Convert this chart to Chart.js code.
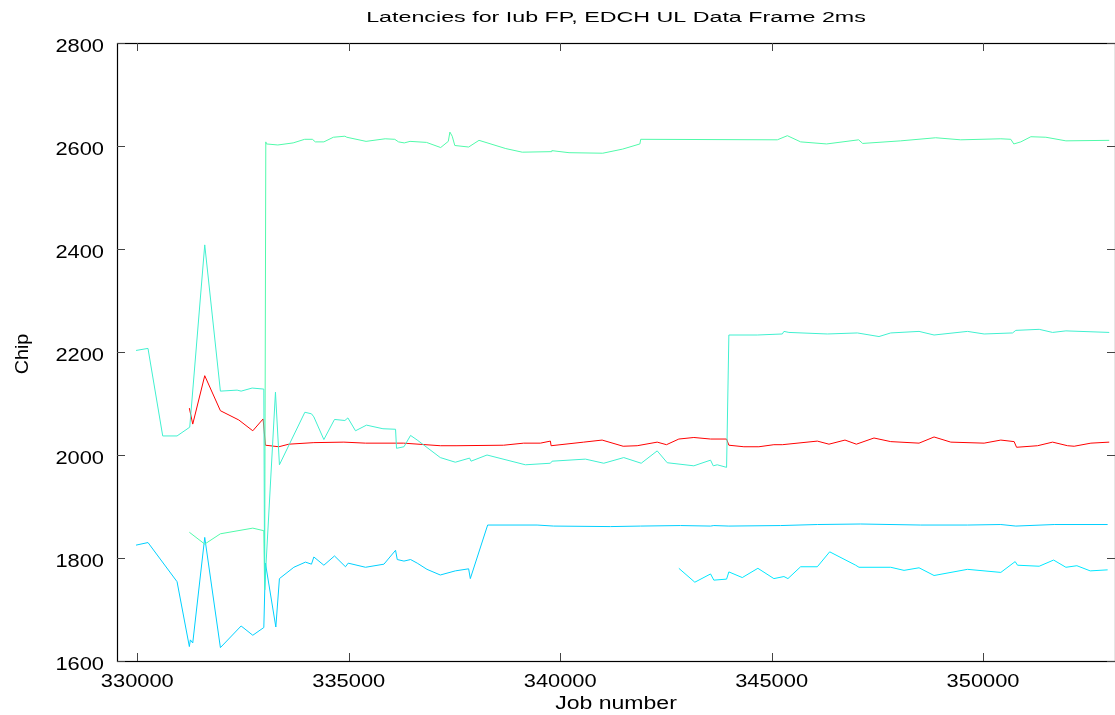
<!DOCTYPE html>
<html>
<head>
<meta charset="utf-8">
<title>Latencies for Iub FP, EDCH UL Data Frame 2ms</title>
<script src="https://cdn.jsdelivr.net/npm/chart.js@4.4.1/dist/chart.umd.min.js"></script>
<style>
    html, body { margin: 0; padding: 0; background: #fff; }
    #chart { display: block; }
</style>
</head>
<body>
<canvas id="chart" width="1115" height="715"></canvas>
<script>
const chartTitle = 'Latencies for Iub FP, EDCH UL Data Frame 2ms';
const xTitle = 'Job number';
const yTitle = 'Chip';

const xTicks = [330000, 335000, 340000, 345000, 350000];
const yTicks = [1600, 1800, 2000, 2200, 2400, 2600, 2800];

// green series: low until 333000 then jumps to ~2610
const greenJobs = [331231, 331595, 331965, 332731, 332992, 333011, 333039, 333053, 333323, 333685,
    333958, 334140, 334211, 334412, 334637, 334909, 334954, 335409, 335861, 336088,
    336178, 336313, 336450, 336838, 337174, 337354, 337392, 337447, 337508, 337835,
    338081, 338713, 339103, 339783, 339802, 340209, 341007, 341478, 341885, 341904,
    345135, 345372, 345686, 346301, 347058, 347153, 348052, 348880, 349472, 350420,
    350656, 350727, 350893, 351130, 351485, 351959, 352984];
const greenChip = [1850, 1827, 1847, 1858, 1853, 1738, 2608, 2604, 2602, 2606,
    2613, 2613, 2608, 2608, 2617, 2619, 2617, 2609, 2614, 2613,
    2608, 2606, 2609, 2607, 2597, 2609, 2627, 2619, 2601, 2598,
    2611, 2595, 2588, 2589, 2591, 2587, 2586, 2594, 2604, 2613,
    2612, 2620, 2608, 2604, 2612, 2605, 2610, 2616, 2612, 2614,
    2613, 2604, 2608, 2618, 2617, 2610, 2611];

// turquoise series: ~2000 band, jumps to ~2235 at 344000
const turqJobs = [329970, 330253, 330601, 330940, 331240, 331595, 331965, 332360, 332455, 332715,
    332992, 333011, 333267, 333361, 333962, 334119, 334175, 334412, 334663, 334909,
    334980, 335160, 335420, 335809, 336107, 336130, 336306, 336462, 336620, 337165,
    337520, 337858, 337892, 338270, 339177, 339769, 339809, 340597, 341030, 341504,
    341916, 342294, 342531, 343161, 343556, 343620, 343714, 343935, 343989, 344661,
    345253, 345291, 345409, 346318, 347028, 347539, 347816, 348486, 348841, 349632,
    350025, 350697, 350775, 351327, 351644, 351959, 352984];
const turqChip = [2203, 2207, 2037, 2037, 2054, 2408, 2124, 2126, 2124, 2130,
    2128, 1738, 2122, 1981, 2083, 2080, 2074, 2030, 2069, 2067,
    2072, 2047, 2058, 2051, 2050, 2013, 2016, 2038, 2029, 1995,
    1986, 1994, 1988, 2000, 1981, 1984, 1988, 1992, 1984, 1995,
    1984, 2008, 1985, 1979, 1990, 1979, 1981, 1976, 2233, 2233,
    2235, 2240, 2238, 2235, 2237, 2230, 2237, 2240, 2233, 2240,
    2235, 2237, 2242, 2244, 2238, 2241, 2238];

// sky blue series: low values, settles at ~1865 from 338300
const blueJobs = [329970, 330253, 330940, 331231, 331255, 331311, 331595, 331965, 332455, 332731,
    332992, 333030, 333276, 333361, 333702, 333977, 334119, 334175, 334412, 334663,
    334923, 334987, 335397, 335832, 336107, 336147, 336306, 336462, 336620, 336850,
    337165, 337520, 337835, 337875, 338285, 339454, 339847, 341189, 341899, 342846,
    343556, 343634, 343989, 345213, 346081, 347106, 348526, 349632, 350420, 350775,
    351682, 352946];
const blueChip = [1825, 1830, 1754, 1628, 1641, 1635, 1840, 1626, 1668, 1650,
    1665, 1790, 1666, 1760, 1782, 1792, 1788, 1802, 1786, 1804,
    1783, 1790, 1782, 1788, 1815, 1797, 1794, 1797, 1790, 1778,
    1767, 1775, 1779, 1760, 1864, 1864, 1862, 1861, 1862, 1863,
    1862, 1863, 1862, 1863, 1865, 1866, 1864, 1864, 1865, 1862,
    1865, 1865];

// second sky blue series starting at 342800
const cyanJobs = [342806, 343184, 343556, 343634, 343935, 343989, 344306, 344675, 345054, 345291,
    345386, 345686, 346081, 346373, 346988, 347066, 347816, 348131, 348486, 348841,
    349632, 350420, 350759, 350815, 351327, 351668, 351959, 352219, 352534, 352946];
const cyanChip = [1780, 1753, 1769, 1757, 1759, 1773, 1762, 1780, 1760, 1764,
    1760, 1783, 1783, 1812, 1786, 1782, 1782, 1776, 1781, 1766,
    1778, 1772, 1793, 1786, 1784, 1796, 1782, 1785, 1775, 1777];

// red series
const redJobs = [331231, 331311, 331595, 331965, 332400, 332731, 332975, 333030, 333347, 333584,
    334175, 334885, 335397, 336296, 337165, 337560, 338663, 339137, 339532, 339769,
    339785, 340557, 340992, 341489, 341821, 342294, 342514, 342806, 343161, 343556,
    343935, 343989, 344344, 344699, 345054, 345253, 346081, 346356, 346735, 347004,
    347421, 347816, 348486, 348841, 349237, 350025, 350420, 350735, 350792, 351289,
    351644, 351999, 352155, 352550, 352984];
const redChip = [2091, 2060, 2154, 2086, 2068, 2047, 2070, 2019, 2016, 2021,
    2024, 2025, 2023, 2023, 2018, 2018, 2019, 2023, 2023, 2027,
    2018, 2025, 2029, 2017, 2018, 2025, 2020, 2031, 2034, 2031,
    2031, 2019, 2016, 2016, 2020, 2020, 2027, 2021, 2029, 2021,
    2033, 2026, 2023, 2035, 2025, 2023, 2029, 2026, 2015, 2018,
    2025, 2018, 2017, 2023, 2025];

function toPoints(xs, ys) {
    return xs.map((x, i) => ({ x: x, y: ys[i] }));
}

function makeSeries(label, xs, ys, color) {
    return {
        label: label,
        data: toPoints(xs, ys),
        borderColor: color,
        backgroundColor: color,
        borderWidth: 1,
        pointRadius: 0,
        showLine: true,
        tension: 0
    };
}

const FONT = '"Liberation Sans", Arial, Helvetica, sans-serif';

// draw text stretched horizontally (the reference font is wider than Arial)
function drawText(ctx, text, x, y, size, stretch, align, angle) {
    ctx.save();
    ctx.font = size + 'px ' + FONT;
    ctx.textBaseline = 'middle';
    ctx.textAlign = 'left';
    const w = ctx.measureText(text).width * stretch;
    ctx.translate(x, y);
    if (angle) ctx.rotate(angle);
    let start = -w / 2;
    if (align === 'right') start = -w;
    if (align === 'left') start = 0;
    ctx.translate(start, 0);
    ctx.scale(stretch, 1);
    ctx.fillText(text, 0, 0);
    ctx.restore();
}

// frame, inward tick marks, tick labels and titles, gnuplot style
const framePlugin = {
    id: 'frame',
    afterDraw: function (chart) {
        const ctx = chart.ctx;
        const area = chart.chartArea;
        const xs = chart.scales.x;
        const ys = chart.scales.y;
        ctx.save();

        ctx.strokeStyle = '#000';
        ctx.lineWidth = 1.2;
        ctx.strokeRect(area.left + 0.5, area.top + 0.5, area.right - area.left, area.bottom - area.top);

        ctx.strokeStyle = '#444';
        ctx.lineWidth = 1;
        ctx.beginPath();
        xTicks.forEach(v => {
            const px = Math.round(xs.getPixelForValue(v)) + 0.5;
            ctx.moveTo(px, area.bottom);
            ctx.lineTo(px, area.bottom - 8);
            ctx.moveTo(px, area.top);
            ctx.lineTo(px, area.top + 8);
        });
        yTicks.forEach(v => {
            const py = Math.round(ys.getPixelForValue(v)) + 0.5;
            ctx.moveTo(area.left, py);
            ctx.lineTo(area.left + 8, py);
            ctx.moveTo(area.right, py);
            ctx.lineTo(area.right - 8, py);
        });
        ctx.stroke();
        ctx.restore();

        ctx.fillStyle = '#000';
        xTicks.forEach(v => {
            drawText(ctx, String(v), xs.getPixelForValue(v), area.bottom + 21, 19, 1.15, 'center');
        });
        yTicks.forEach(v => {
            drawText(ctx, String(v), area.left - 13, ys.getPixelForValue(v) + 4, 19, 1.15, 'right');
        });

        drawText(ctx, chartTitle, 616, 18, 15.5, 1.5, 'center');
        drawText(ctx, xTitle, 616, 704, 18, 1.28, 'center');
        drawText(ctx, yTitle, 23, 354, 18, 1.1, 'center', -Math.PI / 2);
    }
};

const ctx = document.getElementById('chart').getContext('2d');

new Chart(ctx, {
    type: 'scatter',
    data: {
        datasets: [
            makeSeries('series 1', turqJobs, turqChip, 'rgb(64,240,208)'),
            makeSeries('series 2', greenJobs, greenChip, 'rgb(80,250,170)'),
            makeSeries('series 3', blueJobs, blueChip, 'rgb(0,208,255)'),
            makeSeries('series 4', cyanJobs, cyanChip, 'rgb(0,232,255)'),
            makeSeries('series 5', redJobs, redChip, 'rgb(255,0,0)')
        ]
    },
    options: {
        responsive: false,
        animation: false,
        devicePixelRatio: 1,
        layout: {
            padding: { top: 43, right: 0, bottom: 0, left: 0 }
        },
        plugins: {
            legend: { display: false },
            title: { display: false },
            tooltip: { enabled: false }
        },
        scales: {
            x: {
                type: 'linear',
                min: 329520,
                max: 353120,
                afterFit: function (scale) { scale.height = 54; },
                grid: { display: false, drawTicks: false },
                border: { display: false },
                ticks: { display: false }
            },
            y: {
                type: 'linear',
                min: 1600,
                max: 2800,
                afterFit: function (scale) { scale.width = 117; },
                grid: { display: false, drawTicks: false },
                border: { display: false },
                ticks: { display: false }
            }
        }
    },
    plugins: [framePlugin]
});
</script>
</body>
</html>
